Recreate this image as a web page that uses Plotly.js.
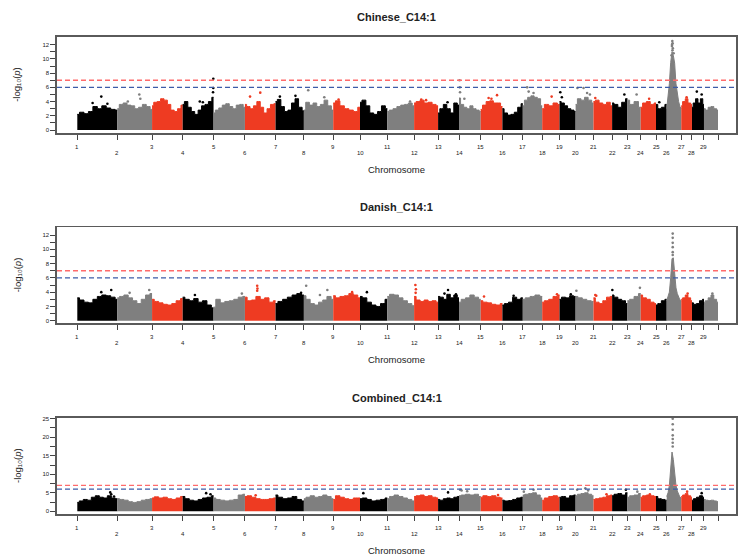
<!DOCTYPE html>
<html><head><meta charset="utf-8">
<script src="https://cdn.plot.ly/plotly-3.0.1.min.js"></script>
<style>html,body{margin:0;padding:0;background:#fff}#chart{width:744px;height:556px}</style>
</head><body><div id="chart"></div>
<script>
// ---------- data ----------
const chromosomes = ['1','2','3','4','5','6','7','8','9','10','11','12','13','14','15','16','17','18','19','20','21','22','23','24','25','26','27','28','29'];
const chromLengthMb = [157,136,120,121,123,120,111,115,105,107,105,94,82,85,85,80,76,68,63,70,73,60,52,60,42,57,42,47,55];
const panelTitles = ['Chinese_C14:1','Danish_C14:1','Combined_C14:1'];
const suggestiveLine = 6;
const genomeWideLine = 7;

// upper edge of the dense SNP cloud, sampled evenly along each chromosome (-log10 p)
const chineseProfile = [
 [2.2,2.5,2.3,2.6,3.3,3.0,3.4,3.1,2.9,2.8],
 [3.0,3.6,3.8,3.5,3.4,3.0,3.2,3.6,3.3,2.9],
 [3.4,3.9,4.0,4.4,4.2,3.6,2.8,2.6,3.0,3.5],
 [3.6,4.0,3.2,2.6,2.2,2.8,3.4,3.6,4.0,4.6],
 [2.4,2.8,3.1,3.5,3.7,3.3,3.0,3.5,3.6,3.2],
 [3.6,3.3,3.0,3.4,4.0,3.2,2.4,3.0,3.6,3.7],
 [4.0,4.3,3.3,2.6,2.8,3.8,4.4,3.2,2.7],
 [2.8,3.9,3.5,3.8,3.3,3.6,4.2,3.4,2.8],
 [3.8,4.1,3.4,3.0,2.8,2.6,3.2],
 [3.9,4.2,3.4,2.4,2.2,2.6,3.4,3.0],
 [2.6,2.8,3.0,3.3,3.5,3.6,3.8,3.4],
 [3.8,4.0,4.2,3.8,3.9,3.6,3.4],
 [2.4,3.0,3.6,3.0,2.4,3.8,3.5],
 [4.5,3.6,3.2,3.0,3.4,3.0,2.8,2.6],
 [2.9,3.5,4.0,4.1,3.8,3.8,3.3],
 [3.0,2.4,2.1,2.2,2.5,3.2,3.7],
 [3.4,4.2,4.6,4.8,4.6,4.4,3.4],
 [3.0,3.6,3.4,3.8,3.6],
 [4.0,3.8,3.4,3.0,2.8,2.6],
 [3.6,4.4,4.2,4.6,4.2,3.8],
 [4.0,4.2,3.8,3.6,3.9,3.4],
 [3.8,3.6,3.2,3.9,4.4],
 [4.2,3.6,4.0,3.2],
 [3.2,3.8,4.0,3.6,3.8],
 [3.6,3.0,3.2,3.6],
 [3.0,4.4,6.5,9.5,11.0,10.5,9.4,6.5,4.8,4.0,3.3,3.0],
 [3.4,4.0,4.4,3.8,3.6],
 [3.2,3.8,4.4,3.8,4.4,3.6],
 [3.0,2.8,3.2,3.3,3.0,2.8]
];
const danishProfile = [
 [3.2,2.9,2.6,2.5,3.0,3.4,3.6,3.5,3.3,3.0],
 [3.2,3.4,3.6,3.2,2.8,2.4,3.0,3.6,3.8],
 [3.0,2.7,2.5,2.3,2.2,2.4,2.8,3.1],
 [3.3,3.0,2.8,3.1,2.6,2.8,2.2,1.8],
 [1.9,3.0,2.5,2.7,2.8,3.0,3.3,3.4],
 [3.3,2.8,2.9,3.4,3.0,3.2,2.6,2.8],
 [2.4,2.7,3.0,3.3,3.6,3.8,3.6],
 [3.5,3.0,2.4,2.2,2.6,2.9,3.4,3.0],
 [3.5,3.2,3.4,3.5,3.8,3.6,3.2],
 [3.4,3.2,2.6,2.2,2.0,2.4,3.0],
 [3.4,3.7,3.6,3.2,2.8,2.4,2.1],
 [3.4,2.9,2.7,2.9,2.7,2.8,2.6],
 [3.4,3.3,3.0,3.7,3.2,3.6,3.2],
 [2.6,3.0,3.2,3.6,3.3,3.0],
 [2.8,2.6,2.5,2.3,2.2,2.4],
 [2.2,2.4,2.6,3.3,3.0,3.2],
 [3.0,3.2,3.4,3.6,3.4],
 [2.6,2.8,3.0,3.4,3.6],
 [3.0,3.3,3.2,3.5,3.4],
 [3.4,3.2,3.0,2.8,2.7],
 [3.2,2.6,2.4,2.8,3.3,3.4],
 [3.6,3.3,3.0,2.8,2.4],
 [2.8,3.0,3.4,3.8],
 [3.6,3.2,3.0,2.6,2.4],
 [2.2,2.4,2.8,3.0],
 [2.8,3.4,4.0,6.0,8.7,8.8,6.0,4.6,3.8,3.2,2.9,2.8],
 [3.0,3.2,3.6,3.2,2.8],
 [2.5,2.3,2.4,2.8,3.0],
 [2.6,2.8,3.2,3.6,3.0,2.6]
];
const combinedProfile = [
 [2.4,2.8,3.2,3.0,3.8,4.2,3.8,3.6,4.2,3.6,3.4],
 [3.4,3.2,3.0,2.6,2.4,2.6,3.0,3.2,3.4],
 [3.6,3.9,3.6,3.8,3.4,3.2,3.6,4.0],
 [4.0,3.4,3.0,2.8,3.2,3.6,3.8,4.2],
 [3.6,3.2,3.0,2.8,3.0,3.2,4.4,4.6],
 [4.0,4.2,3.8,3.4,3.2,3.2,3.4,3.6],
 [4.4,3.8,3.4,3.6,4.0,3.2,2.8],
 [3.4,3.8,4.2,3.8,4.0,4.4,4.0,3.4],
 [3.2,4.2,3.8,3.4,3.2,3.6,3.6],
 [3.4,3.6,3.2,2.8,3.0,3.2,3.6],
 [3.4,4.0,4.4,4.0,3.6,3.2,2.8],
 [4.0,4.2,4.4,4.0,4.2,3.8,3.6],
 [3.2,3.0,3.4,3.6,3.4,3.8,4.0],
 [4.2,4.4,4.6,4.4,4.6,4.0],
 [3.8,4.2,4.0,4.2,3.8,3.6],
 [3.0,2.8,2.9,3.2,3.6,3.8],
 [4.4,4.6,4.8,5.0,4.4,3.6],
 [3.0,3.6,4.0,4.2,3.8],
 [3.8,4.0,3.6,4.2,4.4],
 [4.2,4.6,4.8,5.0,4.6,4.2],
 [3.2,3.4,3.6,3.8,4.2,4.4],
 [4.2,4.6,4.8,4.4,5.0],
 [3.8,4.2,4.4,4.8],
 [3.8,4.2,4.4,4.2,4.0],
 [4.0,3.4,3.2,3.0],
 [4.0,5.0,7.0,11.0,16.0,14.0,9.5,7.0,5.5,4.5,3.8,3.6],
 [4.0,4.4,4.8,4.2,3.8],
 [3.0,3.4,3.8,4.2,3.8],
 [3.2,3.0,2.9,3.0,2.8,2.6]
];

// isolated SNPs above the cloud: [chromosome, position (Mb), -log10 p]
const chineseTopSnps = [
 [1,60,3.8],[1,94,4.7],[1,118,3.7],[2,41,4.0],[2,86,5.0],[2,90,4.4],
 [4,67,4.0],[4,79,3.9],[4,119,5.3],[4,120,5.9],[4,120,7.2],
 [6,20,4.7],[6,60,5.25],[7,17,4.7],[7,78,4.8],[8,17,5.6],[8,80,4.6],[9,21,4.3],
 [11,89,4.0],[12,28,4.3],[12,47,4.2],[13,37,3.9],
 [14,2,7.0],[14,3,6.0],[14,4,5.3],[14,21,4.4],
 [15,31,4.5],[15,42,4.4],[15,64,4.9],[17,17,6.0],[17,23,5.4],[17,42,5.2],
 [18,37,4.7],[19,3,5.3],[19,9,4.6],[20,7,5.9],[20,31,5.9],[20,45,5.2],[20,56,5.0],
 [21,7,4.5],[22,48,5.0],[23,36,5.0],[24,33,4.4],[25,13,3.9],
 [26,19,10.5],[26,20.5,11.8],[26,21,12.0],[26,22,12.5],[26,22.5,11.2],[26,23,12.2],[26,24,11.5],[26,27,10.8],
 [27,21,4.6],[28,19,5.4],[28,38,5.0]
];
const danishTopSnps = [
 [1,94,4.0],[1,133,4.3],[2,48,3.9],[2,125,4.3],[4,48,3.6],[5,111,3.8],
 [6,48,4.2],[6,48,4.9],[6,49,4.5],[7,100,3.9],[8,9,4.9],[8,63,3.6],[8,92,4.3],
 [9,74,4.0],[10,27,4.0],[12,5,5.0],[12,6,3.9],[12,7,4.4],
 [13,25,3.8],[13,39,4.3],[13,70,3.7],[15,13,3.4],[16,44,3.5],[18,58,3.7],[19,44,3.7],
 [20,3,4.2],[21,7,3.6],[21,11,3.5],[22,1,4.3],[23,49,4.6],
 [26,23.5,9.2],[26,23.5,9.6],[26,23.5,10.3],[26,23.5,10.9],[26,23.5,11.6],[26,23.5,12.2],
 [27,25,3.8],[29,33,3.8]
];
const combinedTopSnps = [
 [1,129,5.1],[1,133,4.6],[1,144,4.0],[4,92,4.9],[4,109,4.6],[6,42,4.3],[10,13,4.9],
 [13,39,5.1],[14,4,5.8],[14,10,5.6],[14,32,5.4],[15,68,4.4],[17,4,5.3],[17,42,5.8],
 [20,6,5.8],[20,38,6.2],[20,49,5.6],[21,51,4.6],[22,54,5.8],[23,39,5.3],[24,36,4.6],
 [26,23.5,17.5],[26,23.5,18.5],[26,23.5,19.5],[26,23.5,20.5],[26,23.5,22],[26,23.5,23.5],[26,23.5,25],
 [27,23,5.3],[28,38,4.9]
];

// ---------- styling / layout ----------
const W = 744, H = 556;
const chromColors = ['#000000', '#7f7f7f', '#ee3b22'];
const profiles = [chineseProfile, danishProfile, combinedProfile];
const topSnps = [chineseTopSnps, danishTopSnps, combinedTopSnps];
const panelBox = [
  {top:36.7, bottom:133, yr:[-0.42,13.12], major:[0,2,4,6,8,10,12], minor:[1,3,5,7,9,11]},
  {top:227.3, bottom:323.3, yr:[-0.36,13.08], major:[0,2,4,6,8,10,12], minor:[1,3,5,7,9,11]},
  {top:417.7, bottom:514.3, yr:[-0.81,25.27], major:[0,5,10,15,20,25], minor:[2.5,7.5,12.5,17.5,22.5]}
];

const chromStart = [];
let acc = 0;
chromLengthMb.forEach(l => { chromStart.push(acc); acc += l; });
const genomeEnd = acc;
const pxPerMb = (718 - 77.3) / genomeEnd;
const xRange = [-(77.3 - 57) / pxPerMb, genomeEnd + (736 - 718) / pxPerMb];
const boundaries = chromStart.concat([genomeEnd]);

const traces = [];
const shapes = [];
const annotations = [];
const layout = {
  width: W, height: H, margin: {l:0, r:0, t:0, b:0},
  paper_bgcolor: '#fff', plot_bgcolor: '#fff', showlegend: false,
  font: {family: 'Liberation Sans, Arial, sans-serif', color: '#222'}
};

panelBox.forEach((pb, p) => {
  const s = p === 0 ? '' : String(p + 1);
  const xa = 'x' + s, ya = 'y' + s;
  // cloud per chromosome
  profiles[p].forEach((prof, i) => {
    const n = prof.length;
    const xs = prof.map((_, k) => chromStart[i] + chromLengthMb[i] * k / (n - 1));
    const col = chromColors[i % 3];
    traces.push({type:'scatter', mode:'lines', x: xs, y: prof, xaxis: xa, yaxis: ya,
      fill:'tozeroy', fillcolor: col, line:{color: col, width: 1, shape: i === 25 ? 'linear' : 'hvh'}, hoverinfo:'skip'});
  });
  // isolated SNPs
  const snps = topSnps[p];
  traces.push({type:'scatter', mode:'markers', xaxis: xa, yaxis: ya,
    x: snps.map(d => chromStart[d[0]-1] + d[1]),
    y: snps.map(d => d[2]),
    marker: {size: 2.6, color: snps.map(d => chromColors[(d[0]-1) % 3]), line:{width:0}},
    hoverinfo:'skip'});
  // threshold lines
  shapes.push({type:'line', xref: xa + ' domain', x0:0, x1:1, yref: ya, y0: genomeWideLine, y1: genomeWideLine,
    line:{color:'#ff6b6b', width:1.3, dash:'5px,3px'}});
  shapes.push({type:'line', xref: xa + ' domain', x0:0, x1:1, yref: ya, y0: suggestiveLine, y1: suggestiveLine,
    line:{color:'#3d5ca8', width:1.2, dash:'5px,3px'}});

  const dom = [1 - pb.bottom / H, 1 - pb.top / H];
  layout['xaxis' + s] = {domain:[57/W, 736/W], range: xRange, anchor: ya,
    tickmode:'array', tickvals: boundaries, showticklabels:false, ticks:'outside', ticklen:5, tickwidth:1, tickcolor:'#444',
    showline:true, mirror:true, linecolor:'#5a5a5a', linewidth:1.6, showgrid:false, zeroline:false, fixedrange:true};
  layout['yaxis' + s] = {domain: dom, range: pb.yr, anchor: xa,
    tickmode:'array', tickvals: pb.major, ticktext: pb.major.map(String),
    ticks:'outside', ticklen:5, tickwidth:1, tickcolor:'#444', tickfont:{size:6, color:'#222'},
    minor:{tickmode:'array', tickvals: pb.minor, ticks:'outside', ticklen:5, tickwidth:1, tickcolor:'#444', showgrid:false},
    showline:true, mirror:true, linecolor:'#5a5a5a', linewidth:1.6, showgrid:false, zeroline:false, fixedrange:true};

  // chromosome labels (odd / even staggered)
  const off = pb.bottom - 133;
  chromosomes.forEach((c, i) => {
    const yy = (i % 2 === 0 ? 147 : 152.7) + off;
    annotations.push({xref: xa, yref:'paper', x: chromStart[i], y: 1 - yy / H, text: c, showarrow:false,
      xanchor:'center', yanchor:'middle', font:{size:6, color:'#222'}});
  });
  annotations.push({xref:'paper', yref:'paper', x: 396.5 / W, y: 1 - (169.5 + off) / H, text:'Chromosome',
    showarrow:false, xanchor:'center', yanchor:'middle', font:{size:9.5, color:'#222'}});
  annotations.push({xref:'paper', yref:'paper', x: 396.5 / W, y: 1 - (pb.top - 20) / H, text: panelTitles[p],
    showarrow:false, xanchor:'center', yanchor:'middle', font:{size:11, color:'#222', weight:'bold'}});
  annotations.push({xref:'paper', yref:'paper', x: 17 / W, y: 1 - ((pb.top + pb.bottom) / 2) / H,
    text:'-log\u2081\u2080(<i>p</i>)', textangle:-90, showarrow:false, xanchor:'center', yanchor:'middle',
    font:{size:9.5, color:'#222'}});
});
layout.shapes = shapes;
layout.annotations = annotations;

Plotly.newPlot('chart', traces, layout, {displayModeBar:false, staticPlot:true});
</script></body></html>
